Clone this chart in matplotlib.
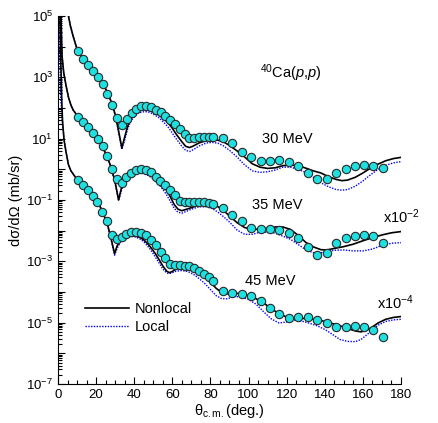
import numpy as np
import matplotlib
matplotlib.use('Agg')
import matplotlib.pyplot as plt
from matplotlib.ticker import FixedLocator, FuncFormatter, MultipleLocator, LogLocator

plt.rcParams['font.family'] = ['Liberation Sans', 'DejaVu Sans']
plt.rcParams['mathtext.fontset'] = 'custom'
plt.rcParams['mathtext.rm'] = 'Liberation Sans'
plt.rcParams['mathtext.it'] = 'Liberation Sans:italic'

# experimental data, values given as log10 of dsigma/dOmega (already scaled)
ang_30 = [10.3, 13.3, 15.9, 18.5, 21.1, 23.8, 25.9, 28.6, 30.9, 33.5, 36.1, 38.6, 41.1,
          43.7, 46.2, 48.8, 51.3, 53.9, 56.3, 58.8, 61.4, 64.0, 66.4, 68.9, 71.4, 74.0,
          76.6, 79.2, 81.6, 86.5, 91.5, 96.5, 101.4, 106.3, 111.2, 116.1, 121.2, 126.1,
          131.0, 136.0, 141.0, 145.9, 150.9, 155.8, 160.7, 165.4, 170.4]
exp_30 = [3.87, 3.59, 3.39, 3.21, 3.00, 2.78, 2.47, 2.10, 1.66, 1.45, 1.63, 1.83, 1.98,
          2.05, 2.06, 2.02, 1.95, 1.86, 1.75, 1.62, 1.47, 1.30, 1.15, 1.02, 1.02, 1.05,
          1.06, 1.06, 1.05, 1.01, 0.85, 0.56, 0.39, 0.27, 0.27, 0.30, 0.24, 0.11,
          -0.11, -0.32, -0.32, -0.13, 0.02, 0.11, 0.14, 0.12, 0.05]

ang_35 = [10.3, 13.3, 15.9, 18.3, 20.8, 23.4, 25.8, 28.5, 31.0, 33.4, 35.9, 38.4, 40.9,
          43.5, 46.0, 48.6, 51.2, 53.7, 56.3, 58.8, 61.4, 64.0, 66.4, 68.9, 71.4, 74.0,
          76.6, 79.2, 81.6, 86.5, 91.5, 96.5, 101.4, 106.3, 111.2, 116.1, 121.2, 126.1,
          131.0, 136.0, 141.0, 145.9, 150.9, 155.8, 160.7, 165.4, 170.4]
exp_35 = [1.72, 1.55, 1.39, 1.20, 0.99, 0.75, 0.44, 0.02, -0.32, -0.43, -0.24, -0.11, -0.02,
          0.00, -0.01, -0.10, -0.24, -0.39, -0.50, -0.67, -0.85, -1.02, -1.07, -1.07, -1.07, -1.07,
          -1.08, -1.10, -1.12, -1.25, -1.48, -1.69, -1.90, -1.96, -1.96, -1.98, -2.07, -2.25,
          -2.52, -2.79, -2.74, -2.41, -2.23, -2.17, -2.14, -2.17, -2.39]

ang_45 = [10.3, 13.1, 15.7, 18.2, 20.7, 23.3, 25.7, 28.6, 30.9, 33.4, 35.9, 38.5, 41.1,
          43.7, 46.2, 48.8, 51.3, 53.9, 56.4, 59.0, 61.5, 64.0, 66.4, 68.9, 71.4, 74.0,
          76.6, 79.2, 81.6, 86.5, 91.5, 96.5, 101.4, 106.3, 111.2, 116.1, 121.2, 126.1,
          131.0, 136.0, 141.0, 145.9, 150.9, 155.8, 160.7, 165.4, 170.4]
exp_45 = [-0.35, -0.51, -0.67, -0.86, -1.05, -1.39, -1.69, -2.13, -2.28, -2.20, -2.11, -2.04, -2.03,
          -2.07, -2.15, -2.30, -2.47, -2.70, -2.90, -3.09, -3.12, -3.13, -3.14, -3.15, -3.21, -3.30,
          -3.40, -3.50, -3.64, -3.96, -4.02, -4.05, -4.12, -4.29, -4.53, -4.73, -4.86, -4.82,
          -4.82, -4.91, -5.02, -5.13, -5.13, -5.11, -5.13, -5.24, -5.46]

# calculations (log10)
nl30_ang = [5.5, 6.5, 8, 10, 12, 15, 18, 20, 22, 24, 26, 28, 30, 31.5, 33.5, 35, 36.5, 38, 40,
            42, 44, 46, 48, 50, 53, 56, 58, 60, 62, 65, 67, 69, 71, 74, 78, 81, 84, 87, 90,
            94, 98, 102, 106, 110, 114, 118, 122, 126, 130, 134, 138, 142, 146, 149, 152,
            156, 160, 164, 168, 172, 176, 180]
nl30 = [5.0, 4.68, 4.33, 3.92, 3.70, 3.42, 3.22, 3.08, 2.92, 2.74, 2.50, 2.20, 1.80, 1.35, 0.70,
        1.05, 1.40, 1.62, 1.80, 1.90, 1.95, 1.95, 1.92, 1.87, 1.77, 1.62, 1.50, 1.34, 1.15, 0.90,
        0.75, 0.71, 0.76, 0.86, 0.94, 0.97, 0.95, 0.89, 0.78, 0.60, 0.40, 0.18, 0.07, 0.03, 0.05,
        0.12, 0.14, 0.12, 0.04, -0.05, -0.12, -0.24, -0.33, -0.37, -0.35, -0.26, -0.12, 0.04,
        0.17, 0.28, 0.35, 0.39]
lo30 = [5.0, 4.68, 4.33, 3.92, 3.70, 3.42, 3.22, 3.08, 2.92, 2.74, 2.50, 2.18, 1.76, 1.30, 0.65,
        0.95, 1.30, 1.55, 1.72, 1.83, 1.87, 1.88, 1.86, 1.80, 1.68, 1.50, 1.36, 1.18, 1.00, 0.75,
        0.62, 0.58, 0.64, 0.76, 0.86, 0.88, 0.85, 0.76, 0.62, 0.40, 0.14, -0.05, -0.10, -0.08,
        -0.02, 0.07, 0.07, 0.00, -0.10, -0.26, -0.44, -0.57, -0.66, -0.68, -0.66, -0.55, -0.38,
        -0.18, 0.00, 0.13, 0.21, 0.25]

nl35_ang = [1.6, 2.1, 3, 4.2, 5.5, 6.8, 8, 10, 12, 15, 18, 20, 22, 24, 26, 28, 30, 31.8, 33.5,
            35, 37, 39, 41, 43, 45, 47, 49, 51, 53, 55, 57, 59, 61, 63, 65, 67, 70, 74, 78,
            81, 84, 87, 90, 94, 98, 102, 106, 110, 114, 118, 122, 126, 130, 134, 138, 141,
            145, 150, 155, 160, 165, 170, 175, 180]
nl35 = [5.0, 3.72, 3.15, 2.74, 2.35, 2.09, 1.93, 1.76, 1.62, 1.42, 1.20, 1.05, 0.87, 0.65, 0.38,
        0.05, -0.42, -1.00, -0.55, -0.35, -0.20, -0.12, -0.07, -0.06, -0.07, -0.12, -0.20, -0.28,
        -0.38, -0.50, -0.68, -0.90, -1.15, -1.30, -1.35, -1.31, -1.25, -1.16, -1.12, -1.16, -1.22,
        -1.35, -1.52, -1.74, -1.90, -1.95, -1.96, -1.92, -1.88, -1.88, -1.96, -2.15, -2.38, -2.53,
        -2.62, -2.63, -2.58, -2.52, -2.44, -2.33, -2.23, -2.14, -2.07, -2.03]
lo35 = [5.0, 3.72, 3.15, 2.74, 2.35, 2.09, 1.93, 1.76, 1.62, 1.42, 1.20, 1.05, 0.87, 0.65, 0.36,
        0.02, -0.46, -1.02, -0.65, -0.42, -0.28, -0.18, -0.13, -0.12, -0.14, -0.19, -0.27, -0.37,
        -0.50, -0.65, -0.83, -1.05, -1.27, -1.40, -1.43, -1.38, -1.30, -1.22, -1.22, -1.28, -1.40,
        -1.55, -1.72, -1.98, -2.12, -2.12, -2.05, -2.05, -2.08, -2.18, -2.28, -2.45, -2.62, -2.72,
        -2.72, -2.68, -2.64, -2.63, -2.66, -2.66, -2.60, -2.48, -2.41, -2.39]

nl45_ang = [1.05, 1.5, 2.0, 2.4, 3.2, 4.2, 5.5, 6.8, 8.5, 10, 12, 15, 18, 20, 22, 24, 26, 28,
            29.7, 31, 33, 35, 37, 39, 41, 43, 45, 47, 49, 51, 53, 55, 57, 58.5, 60, 62, 65,
            68, 71, 74, 77, 80, 83, 86, 89, 92, 96, 100, 104, 108, 112, 116, 120, 124, 128,
            132, 136, 140, 144, 148, 152, 156, 159, 162, 165, 168, 172, 176, 180]
nl45 = [5.0, 3.5, 2.2, 1.54, 0.95, 0.57, 0.15, -0.05, -0.20, -0.33, -0.45, -0.63, -0.84, -1.00,
        -1.20, -1.48, -1.80, -2.30, -2.75, -2.50, -2.30, -2.24, -2.19, -2.17, -2.18, -2.22, -2.30,
        -2.42, -2.57, -2.74, -2.94, -3.15, -3.32, -3.37, -3.33, -3.25, -3.22, -3.24, -3.28, -3.38,
        -3.50, -3.68, -3.88, -4.02, -4.06, -4.04, -4.05, -4.12, -4.22, -4.36, -4.55, -4.70, -4.82,
        -4.86, -4.86, -4.87, -4.91, -4.96, -5.03, -5.10, -5.19, -5.27, -5.30, -5.25, -5.14, -5.01,
        -4.89, -4.83, -4.80]
lo45_ang = [0.7, 1.0, 1.4] + nl45_ang[3:]
lo45 = [5.0, 3.5, 2.3, 1.54, 0.95, 0.57, 0.15, -0.05, -0.20, -0.33, -0.45, -0.63, -0.84, -1.00,
        -1.20, -1.48, -1.80, -2.32, -2.80, -2.58, -2.35, -2.24, -2.20, -2.19, -2.21, -2.27, -2.36,
        -2.50, -2.66, -2.85, -3.05, -3.25, -3.38, -3.40, -3.37, -3.32, -3.30, -3.33, -3.42, -3.56,
        -3.72, -3.92, -4.12, -4.22, -4.22, -4.15, -4.16, -4.24, -4.40, -4.65, -4.88, -5.01, -4.98,
        -4.92, -4.95, -5.02, -5.10, -5.22, -5.38, -5.55, -5.61, -5.62, -5.55, -5.40, -5.24, -5.08,
        -4.96, -4.91, -4.89]

fig = plt.figure(figsize=(4.39, 4.23), dpi=100)
ax = fig.add_axes([0.1321, 0.0922, 0.7813, 0.870])

for a, v in [(nl30_ang, lo30), (nl35_ang, lo35), (lo45_ang, lo45)]:
    ax.plot(a, 10.0 ** np.array(v), color='#0000ff', lw=1.0, ls=(0, (1, 1)), zorder=2)
for a, v in [(nl30_ang, nl30), (nl35_ang, nl35), (nl45_ang, nl45)]:
    ax.plot(a, 10.0 ** np.array(v), color='black', lw=1.2, zorder=2.5)
for a, v in [(ang_30, exp_30), (ang_35, exp_35), (ang_45, exp_45)]:
    ax.plot(a, 10.0 ** np.array(v), 'o', ms=6.0, mfc='#1ee0e0', mec='#2a2a2a', mew=0.8,
            zorder=3, clip_on=False)

ax.set_yscale('log')
ax.set_xlim(0, 180)
ax.set_ylim(1e-7, 1e5)
ax.xaxis.set_major_locator(MultipleLocator(20))
ax.xaxis.set_minor_locator(MultipleLocator(5))
ax.yaxis.set_major_locator(FixedLocator([10.0 ** k for k in range(-7, 6)]))
ax.yaxis.set_minor_locator(LogLocator(base=10, subs=np.arange(2, 10), numticks=20))


def fmt(y, pos):
    k = int(round(np.log10(y)))
    if k % 2 == 0:
        return ''
    return r'$\mathregular{10^{%d}}$' % k


ax.yaxis.set_major_formatter(FuncFormatter(fmt))
ax.tick_params(which='both', direction='in', labelsize=9.5, width=0.8)
ax.tick_params(which='major', length=5)
ax.tick_params(which='minor', length=3)
for s in ['top', 'right']:
    ax.spines[s].set_visible(False)

ax.set_ylabel('dσ/dΩ (mb/sr)', fontsize=10.5, labelpad=2)
ax.set_xlabel(r'$\mathregular{θ_{c.m.}}$(deg.)', fontsize=10.5, labelpad=1)

ax.text(0.68, 0.845, r'$^{40}$Ca($\it{p}$,$\it{p}$)', transform=ax.transAxes,
        ha='center', va='center', fontsize=10.5)
ax.text(0.67, 0.667, '30 MeV', transform=ax.transAxes, ha='center', va='center', fontsize=10.5)
ax.text(0.64, 0.487, '35 MeV', transform=ax.transAxes, ha='center', va='center', fontsize=10.5)
ax.text(0.62, 0.28, '45 MeV', transform=ax.transAxes, ha='center', va='center', fontsize=10.5)
ax.text(1.0, 0.454, r'x10$^{-2}$', transform=ax.transAxes, ha='center', va='center', fontsize=10.5)
ax.text(0.985, 0.22, r'x10$^{-4}$', transform=ax.transAxes, ha='center', va='center', fontsize=10.5)

ax.plot([], [], color='black', lw=1.2, label='Nonlocal')
ax.plot([], [], color='#0000ff', lw=1.0, ls=(0, (1, 1)), label='Local')
h, l = ax.get_legend_handles_labels()
ax.legend(h[-2:], l[-2:], loc='lower left', bbox_to_anchor=(0.04, 0.1), frameon=False,
          fontsize=10.5, handlelength=3.0, handletextpad=0.4, labelspacing=0.25)

fig.savefig('out.png', dpi=100)
